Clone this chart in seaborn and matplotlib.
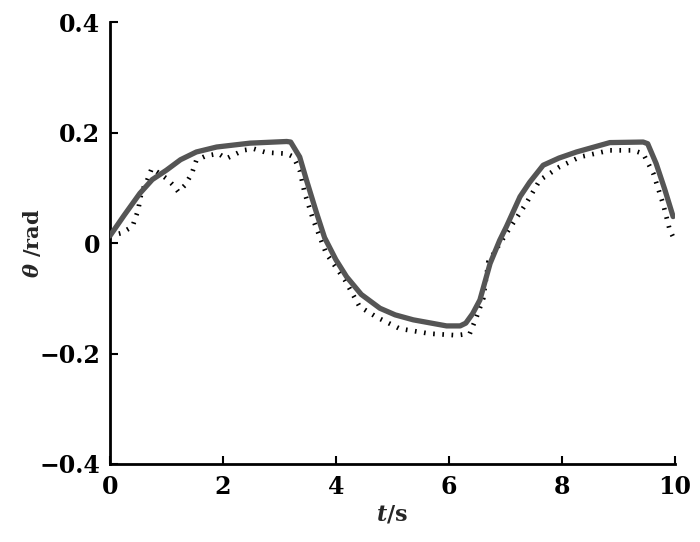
import matplotlib
matplotlib.use("Agg")
import matplotlib.pyplot as plt
import seaborn as sns

# reference (solid) response
t_ref = [0.0, 0.25, 0.53, 0.75, 1.0, 1.25, 1.53, 1.89, 2.48, 3.13, 3.2, 3.36,
         3.48, 3.66, 3.8, 4.0, 4.19, 4.45, 4.78, 5.05, 5.37, 5.96, 6.2, 6.3,
         6.42, 6.55, 6.73, 6.9, 7.02, 7.26, 7.43, 7.67, 7.95, 8.26, 8.85, 9.44,
         9.52, 9.67, 9.82, 9.97]
theta_ref = [0.013, 0.05, 0.09, 0.115, 0.132, 0.151, 0.165, 0.174, 0.181, 0.184,
             0.183, 0.156, 0.114, 0.054, 0.01, -0.030, -0.061, -0.093, -0.118,
             -0.130, -0.139, -0.150, -0.150, -0.145, -0.128, -0.103, -0.037,
             0.005, 0.030, 0.084, 0.110, 0.141, 0.154, 0.165, 0.182, 0.183,
             0.180, 0.144, 0.098, 0.048]

# measured (dotted) response
t_meas = [0.0, 0.2, 0.4, 0.5, 0.56, 0.65, 0.74, 0.85, 1.0, 1.12, 1.21, 1.33,
          1.45, 1.53, 1.7, 1.92, 2.06, 2.36, 2.54, 2.77, 3.13, 3.25, 3.36, 3.45,
          3.6, 3.83, 4.16, 4.42, 4.72, 5.13, 5.66, 6.14, 6.37, 6.49, 6.61, 6.70,
          7.02, 7.37, 7.61, 7.96, 8.32, 8.85, 9.26, 9.44, 9.62, 9.79, 9.91, 9.97]
theta_meas = [0.013, 0.018, 0.03, 0.06, 0.093, 0.111, 0.135, 0.128, 0.117, 0.105,
              0.093, 0.105, 0.126, 0.150, 0.158, 0.162, 0.153, 0.168, 0.171, 0.164,
              0.162, 0.156, 0.132, 0.09, 0.042, -0.019, -0.067, -0.115, -0.134,
              -0.155, -0.164, -0.167, -0.164, -0.134, -0.100, -0.034, 0.018, 0.072,
              0.114, 0.138, 0.156, 0.168, 0.168, 0.162, 0.126, 0.072, 0.024, 0.011]

x_ticks = [0, 2, 4, 6, 8, 10]
y_ticks = [-0.4, -0.2, 0, 0.2, 0.4]
y_tick_labels = ["\u22120.4", "\u22120.2", "0", "0.2", "0.4"]

sns.set_style("ticks")
plt.rcParams["font.family"] = ["DejaVu Serif", "Liberation Serif"]
plt.rcParams["font.weight"] = "bold"
plt.rcParams["mathtext.fontset"] = "custom"
plt.rcParams["mathtext.it"] = "DejaVu Serif:italic:bold"
plt.rcParams["mathtext.rm"] = "DejaVu Serif:bold"

fig = plt.figure(figsize=(7, 5.42), dpi=100)
ax = fig.add_axes([0.157, 0.144, 0.807, 0.815])

sns.lineplot(x=t_meas, y=theta_meas, ax=ax, color="black", linewidth=3.4,
             estimator=None, sort=False)
dotted = ax.lines[-1]
dotted.set_linestyle((0, (0.35, 1.6)))
dotted.set_dash_capstyle("butt")

sns.lineplot(x=t_ref, y=theta_ref, ax=ax, color="#555555", linewidth=3.8,
             estimator=None, sort=False)
ax.lines[-1].set_zorder(3)
ax.lines[-1].set_solid_joinstyle("round")

ax.set_xlim(0, 10)
ax.set_ylim(-0.4, 0.4)
ax.set_xticks(x_ticks)
ax.set_xticklabels([str(v) for v in x_ticks])
ax.set_yticks(y_ticks)
ax.set_yticklabels(y_tick_labels)
ax.tick_params(direction="in", length=6, width=1.5, labelsize=17, colors="black")
ax.tick_params(axis="x", pad=8)
ax.tick_params(axis="y", pad=7)
for lbl in ax.get_xticklabels() + ax.get_yticklabels():
    lbl.set_fontweight("bold")

sns.despine(ax=ax)
for s in ["left", "bottom"]:
    ax.spines[s].set_linewidth(2)
    ax.spines[s].set_color("black")

ax.set_xlabel(r"$t$/s", fontsize=16, fontweight="bold", labelpad=3)
ax.set_ylabel(r"$\theta$ /rad", fontsize=15, fontweight="bold", labelpad=-3)

fig.savefig("out.png", dpi=100)
